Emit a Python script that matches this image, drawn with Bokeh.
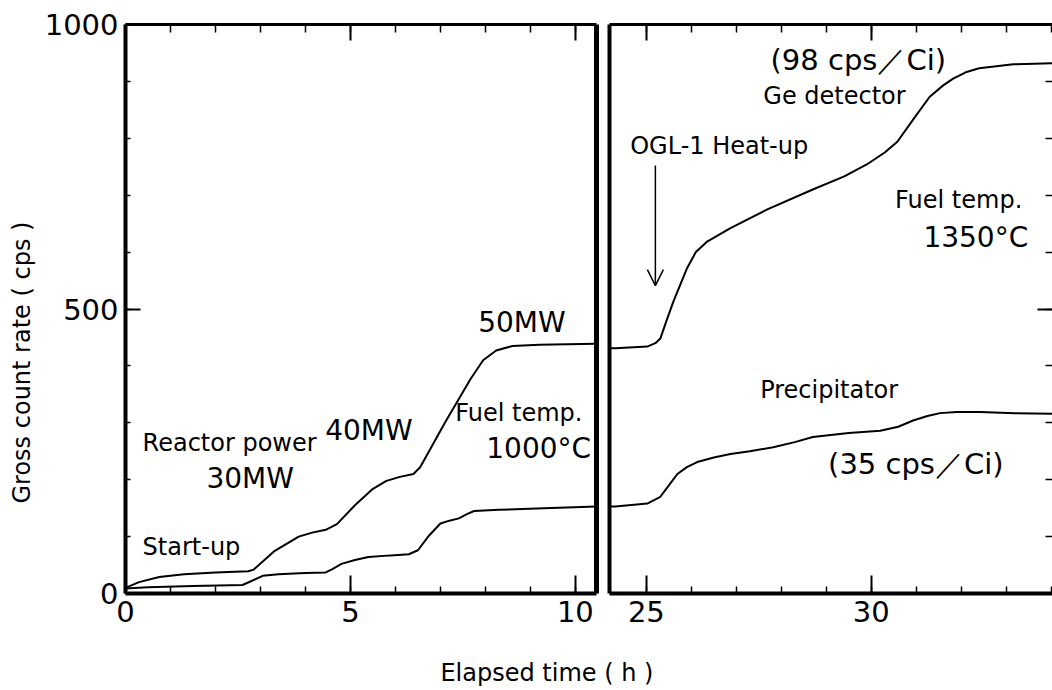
from bokeh.plotting import figure
from bokeh.models import (Range1d, LinearAxis, SingleIntervalTicker, Arrow, OpenHead, Label,
                          CustomJSTickFormatter)
from bokeh.layouts import row, column
from bokeh.embed import file_html
from bokeh.resources import INLINE

# ---------------- data ----------------
# Panel A: 0 - 10 h (reactor start-up)
ge_time_a = [0.0, 0.3, 0.75, 1.3, 2.0, 2.73, 2.85, 3.3, 3.85, 4.15, 4.45, 4.7, 5.1, 5.5,
             5.8, 6.1, 6.4, 6.55, 7.1, 7.67, 7.95, 8.24, 8.6, 9.2, 10.47]
ge_cps_a = [10, 20, 29, 34, 37, 39, 42, 74, 100, 107, 112, 122, 155, 184,
            198, 205, 210, 222, 300, 377, 410, 427, 435, 437, 439]
prec_time_a = [0.0, 0.5, 1.5, 2.6, 2.8, 3.05, 3.4, 4.0, 4.45, 4.6, 4.8, 5.1, 5.4, 5.9,
               6.3, 6.5, 6.75, 7.0, 7.2, 7.41, 7.6, 7.75, 8.3, 9.3, 10.47]
prec_cps_a = [9, 11, 13, 15, 22, 31, 34, 36, 37, 43, 52, 59, 64, 67,
              69, 76, 102, 123, 128, 132, 140, 145, 147, 150, 153]

# Panel B: 24 - 34 h (OGL-1 heat-up)
ge_time_b = [24.18, 24.31, 25.02, 25.2, 25.31, 25.45, 25.6, 25.9, 26.1, 26.36, 26.87, 27.69,
             28.7, 29.4, 29.9, 30.3, 30.58, 30.95, 31.3, 31.6, 31.82, 32.1, 32.4, 33.16, 34.03]
ge_cps_b = [431, 431, 434, 440, 448, 480, 513, 571, 600, 619, 642, 675,
            710, 733, 754, 775, 794, 835, 873, 893, 905, 916, 923, 930, 932]
prec_time_b = [24.18, 24.31, 25.02, 25.31, 25.5, 25.69, 25.9, 26.13, 26.5, 26.87, 27.3, 27.82,
               28.3, 28.7, 29.5, 30.2, 30.6, 30.93, 31.25, 31.53, 31.9, 32.42, 33.2, 34.03]
prec_cps_b = [153, 153, 158, 170, 190, 210, 222, 231, 239, 245, 250, 257,
              266, 275, 282, 286, 293, 304, 312, 317, 319, 319, 317, 316]

x_range_a = (0, 10.47)
x_range_b = (24.18, 34.03)
y_range = (0, 1000)

y_title = "Gross  count  rate ( cps )"
x_title = "Elapsed  time ( h )"

# annotations: (text, x, y, font size)
notes_a = [
    ("Start-up", 0.38, 81, "24px"),
    ("Reactor power", 0.38, 264, "24px"),
    ("30MW", 1.8, 202, "28px"),
    ("40MW", 4.44, 286, "28px"),
    ("50MW", 7.84, 476, "28px"),
    ("Fuel temp.", 7.33, 318, "24px"),
    ("1000°C", 8.02, 255, "28px"),
]
notes_b = [
    ("(98 cps／Ci)", 27.76, 937, "29px"),
    ("Ge  detector", 27.6, 875, "24px"),
    ("OGL-1 Heat-up", 24.64, 787, "24px"),
    ("Fuel temp.", 30.53, 691, "24px"),
    ("1350°C", 31.16, 626, "28px"),
    ("Precipitator", 27.53, 357, "24px"),
    ("(35 cps／Ci)", 29.04, 228, "29px"),
]
arrow_x = 25.2
arrow_y = (752, 541)

FONT = "DejaVu Sans"
BLANK = CustomJSTickFormatter(code="return ''")
TICK = "black"


def make_axis(ticker, line_width, major_in, minor_in, labels, line=True):
    ax = LinearAxis(ticker=ticker)
    ax.axis_line_width = line_width
    ax.axis_line_color = "black" if line else None
    ax.major_tick_in = major_in
    ax.major_tick_out = 0
    ax.minor_tick_in = minor_in
    ax.minor_tick_out = 0
    ax.major_tick_line_width = 2
    ax.minor_tick_line_width = 1.5
    ax.major_tick_line_color = TICK if major_in else None
    ax.minor_tick_line_color = TICK if minor_in else None
    if labels:
        ax.major_label_text_font = FONT
        ax.major_label_text_font_size = "29px"
        ax.major_label_text_color = "black"
        ax.major_label_standoff = 7
    else:
        ax.formatter = BLANK
        ax.major_label_standoff = 0
    return ax


def base_fig(width, xr, mbl, mbr, **kw):
    p = figure(width=width, height=648, x_range=Range1d(*xr), y_range=Range1d(*y_range),
               output_backend="svg", toolbar_location=None, x_axis_type=None, y_axis_type=None,
               min_border_left=mbl, min_border_right=mbr, min_border_top=24, min_border_bottom=55,
               **kw)
    p.outline_line_color = None
    p.background_fill_color = "white"
    p.border_fill_color = "white"
    return p


def add_notes(p, notes):
    for t, x, y, s in notes:
        p.add_layout(Label(x=x, y=y, text=t, text_font=FONT, text_font_size=s,
                           text_color="black", text_align="left", text_baseline="middle"))


# ---------------- left panel ----------------
p1 = base_fig(603, x_range_a, 125, 7, title=y_title, title_location="left")
p1.title.align = "left"
p1.title.vertical_align = "top"
p1.title.offset = 90
p1.title.text_font = FONT
p1.title.text_font_size = "24px"
p1.title.text_font_style = "normal"
p1.title.text_color = "black"
p1.title.standoff = 8
p1.add_layout(make_axis(SingleIntervalTicker(interval=5, num_minor_ticks=5), 4, 18, 7, True), "below")
p1.add_layout(make_axis(SingleIntervalTicker(interval=500, num_minor_ticks=5), 4, 15, 5, True), "left")
p1.add_layout(make_axis(SingleIntervalTicker(interval=5, num_minor_ticks=5), 3, 16, 8, False), "above")
p1.add_layout(make_axis(SingleIntervalTicker(interval=500, num_minor_ticks=5), 5, 0, 0, False), "right")
p1.line(ge_time_a, ge_cps_a, line_color="black", line_width=2)
p1.line(prec_time_a, prec_cps_a, line_color="black", line_width=2)
add_notes(p1, notes_a)

# ---------------- right panel ----------------
p2 = base_fig(449, x_range_b, 6, 0)
p2.add_layout(make_axis(SingleIntervalTicker(interval=5, num_minor_ticks=5), 4, 18, 7, True), "below")
p2.add_layout(make_axis(SingleIntervalTicker(interval=500, num_minor_ticks=5), 4, 0, 0, False), "left")
p2.add_layout(make_axis(SingleIntervalTicker(interval=5, num_minor_ticks=5), 3, 16, 8, False), "above")
p2.add_layout(make_axis(SingleIntervalTicker(interval=500, num_minor_ticks=5), 0, 15, 7, False, line=False), "right")
p2.line(ge_time_b, ge_cps_b, line_color="black", line_width=2)
p2.line(prec_time_b, prec_cps_b, line_color="black", line_width=2)
add_notes(p2, notes_b)
p2.add_layout(Arrow(x_start=arrow_x, y_start=arrow_y[0], x_end=arrow_x, y_end=arrow_y[1],
                    line_width=1.5, line_color="black",
                    end=OpenHead(size=16, line_width=1.5, line_color="black")))

# ---------------- shared x title ----------------
p3 = figure(width=1052, height=42, x_range=Range1d(0, 1), y_range=Range1d(0, 1),
            output_backend="svg", toolbar_location=None, x_axis_type=None, y_axis_type=None,
            min_border=0)
p3.outline_line_color = None
p3.add_layout(Label(x=0.523, y=0.42, text=x_title, text_font=FONT, text_font_size="24px",
                    text_color="black", text_align="center", text_baseline="middle"))

layout = column(row(p1, p2), p3)
open("out.html", "w").write(file_html(layout, INLINE))
